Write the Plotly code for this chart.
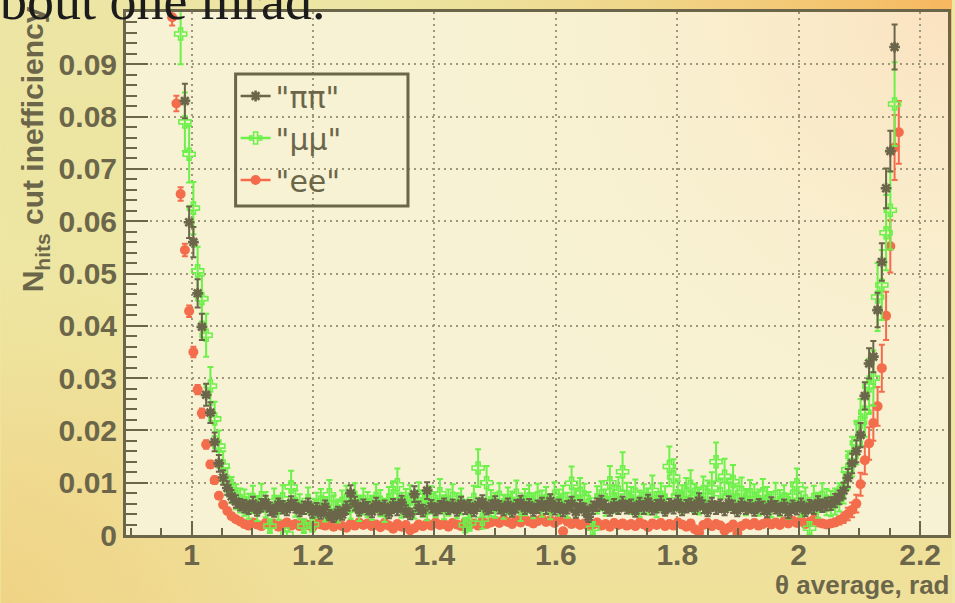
import base64
import plotly.graph_objects as go

# ---------------- data ----------------
X_FIRST = 0.968      # centre of the first bin, rad
BIN_WIDTH = 0.007    # bin width, rad

PIPI = [
    None, None, None, 0.0830, 0.0598, 0.0560, 0.0462, 0.0398, 0.0268, 0.0234,
    0.0178, 0.0137, 0.0110, 0.0090, 0.0074, 0.0064, 0.0058,
    0.0055, 0.0052, 0.0060, 0.0048, 0.0057, 0.0062, 0.0050, 0.0046, 0.0058, 0.0053,
    0.0049, 0.0061, 0.0055, 0.0047, 0.0052, 0.0058, 0.0044, 0.0050, 0.0041, 0.0054,
    0.0038, 0.0035, 0.0043, 0.0039, 0.0052, 0.0080, 0.0060, 0.0048, 0.0056, 0.0051,
    0.0045, 0.0059, 0.0050, 0.0054, 0.0042, 0.0057, 0.0049, 0.0062, 0.0046, 0.0040,
    0.0078, 0.0052, 0.0047, 0.0085, 0.0055, 0.0049, 0.0053, 0.0058, 0.0051, 0.0056,
    0.0048, 0.0060, 0.0052, 0.0055, 0.0047, 0.0058, 0.0063, 0.0050, 0.0054, 0.0061,
    0.0053, 0.0049, 0.0058, 0.0046, 0.0055, 0.0062, 0.0051, 0.0057, 0.0048, 0.0054,
    0.0059, 0.0052, 0.0065, 0.0050, 0.0056, 0.0047, 0.0053, 0.0060, 0.0044, 0.0055,
    0.0049, 0.0035, 0.0052, 0.0058, 0.0062, 0.0054, 0.0048, 0.0057, 0.0051, 0.0060,
    0.0053, 0.0056, 0.0046, 0.0059, 0.0052, 0.0064, 0.0050, 0.0055, 0.0061, 0.0048,
    0.0057, 0.0053, 0.0062, 0.0049, 0.0055, 0.0058, 0.0051, 0.0066, 0.0054, 0.0047,
    0.0059, 0.0052, 0.0056, 0.0049, 0.0061, 0.0054, 0.0047, 0.0058, 0.0051, 0.0055,
    0.0048, 0.0057, 0.0052, 0.0045, 0.0059, 0.0053, 0.0049, 0.0056, 0.0043, 0.0054,
    0.0050, 0.0058, 0.0047, 0.0055, 0.0052, 0.0061, 0.0056, 0.0059,
    0.0060, 0.0066, 0.0072, 0.0085, 0.0109, 0.0137, 0.0160, 0.0191, 0.0266, 0.0328,
    0.0341, 0.0430, 0.0522, 0.0663, 0.0734, 0.0933, None,
]
PIPI_ERR = [
    None, None, None, 0.0033, 0.0030, 0.0029, 0.0027, 0.0025, 0.0021, 0.0020,
    0.0018, 0.0016, 0.0014, 0.0013, 0.0012, 0.0012, 0.0011,
    0.0012, 0.0012, 0.0013, 0.0011, 0.0012, 0.0013, 0.0012, 0.0011, 0.0012, 0.0012,
    0.0011, 0.0013, 0.0012, 0.0011, 0.0012, 0.0012, 0.0011, 0.0011, 0.0010, 0.0012,
    0.0010, 0.0010, 0.0011, 0.0010, 0.0012, 0.0015, 0.0013, 0.0011, 0.0012, 0.0012,
    0.0011, 0.0012, 0.0011, 0.0012, 0.0010, 0.0012, 0.0011, 0.0013, 0.0011, 0.0010,
    0.0015, 0.0012, 0.0011, 0.0016, 0.0012, 0.0011, 0.0012, 0.0012, 0.0011, 0.0012,
    0.0011, 0.0013, 0.0012, 0.0012, 0.0011, 0.0012, 0.0013, 0.0011, 0.0012, 0.0013,
    0.0012, 0.0011, 0.0012, 0.0011, 0.0012, 0.0013, 0.0011, 0.0012, 0.0011, 0.0012,
    0.0012, 0.0012, 0.0013, 0.0011, 0.0012, 0.0011, 0.0012, 0.0013, 0.0011, 0.0012,
    0.0011, 0.0010, 0.0012, 0.0012, 0.0013, 0.0012, 0.0011, 0.0012, 0.0011, 0.0013,
    0.0012, 0.0012, 0.0011, 0.0012, 0.0012, 0.0013, 0.0011, 0.0012, 0.0013, 0.0011,
    0.0012, 0.0012, 0.0013, 0.0011, 0.0012, 0.0012, 0.0011, 0.0014, 0.0012, 0.0011,
    0.0012, 0.0012, 0.0012, 0.0011, 0.0013, 0.0012, 0.0011, 0.0012, 0.0011, 0.0012,
    0.0011, 0.0012, 0.0012, 0.0011, 0.0013, 0.0012, 0.0011, 0.0012, 0.0011, 0.0012,
    0.0011, 0.0012, 0.0011, 0.0012, 0.0012, 0.0013, 0.0012, 0.0012,
    0.0012, 0.0013, 0.0013, 0.0015, 0.0017, 0.0019, 0.0021, 0.0023, 0.0026, 0.0029,
    0.0030, 0.0033, 0.0036, 0.0038, 0.0039, 0.0043, None,
]

MUMU = [
    None, None, 0.0958, 0.0790, 0.0728, 0.0625, 0.0505, 0.0452, 0.0382, 0.0285,
    0.0222, 0.0170, 0.0132, 0.0102, 0.0086, 0.0073, 0.0066,
    0.0062, 0.0055, 0.0068, 0.0050, 0.0071, 0.0058, 0.0017, 0.0064, 0.0052, 0.0069,
    0.0002, 0.0092, 0.0060, 0.0054, 0.0017, 0.0066, 0.0020, 0.0057, 0.0063, 0.0049,
    0.0077, 0.0053, 0.0046, 0.0060, 0.0068, 0.0055, 0.0072, 0.0050, 0.0064, 0.0058,
    0.0052, 0.0070, 0.0061, 0.0047, 0.0066, 0.0075, 0.0096, 0.0057, 0.0063, 0.0069,
    0.0055, 0.0074, 0.0060, 0.0051, 0.0067, 0.0058, 0.0079, 0.0053, 0.0062, 0.0070,
    0.0056, 0.0064, 0.0019, 0.0023, 0.0068, 0.0128, 0.0030, 0.0100, 0.0061, 0.0057,
    0.0072, 0.0054, 0.0065, 0.0059, 0.0076, 0.0050, 0.0063, 0.0069, 0.0056, 0.0071,
    0.0060, 0.0066, 0.0053, 0.0074, 0.0062, 0.0068, 0.0057, 0.0099, 0.0064, 0.0080,
    0.0071, 0.0058, 0.0013, 0.0067, 0.0075, 0.0062, 0.0100, 0.0069, 0.0082, 0.0121,
    0.0073, 0.0066, 0.0078, 0.0060, 0.0070, 0.0064, 0.0085, 0.0058, 0.0072, 0.0067,
    0.0131, 0.0111, 0.0075, 0.0069, 0.0080, 0.0093, 0.0071, 0.0065, 0.0083, 0.0076,
    0.0090, 0.0140, 0.0079, 0.0112, 0.0074, 0.0102, 0.0068, 0.0081, 0.0063, 0.0077,
    0.0070, 0.0062, 0.0079, 0.0066, 0.0058, 0.0073, 0.0061, 0.0069, 0.0055, 0.0074,
    0.0096, 0.0059, 0.0065, 0.0013, 0.0068, 0.0057, 0.0072, 0.0063,
    0.0060, 0.0064, 0.0072, 0.0090, 0.0125, 0.0150, 0.0176, 0.0215, 0.0235, 0.0285,
    0.0300, 0.0455, 0.0478, 0.0578, 0.0621, 0.0824, None,
]
MUMU_ERR = [
    None, None, 0.0058, 0.0056, 0.0054, 0.0050, 0.0046, 0.0044, 0.0041, 0.0036,
    0.0033, 0.0030, 0.0028, 0.0026, 0.0025, 0.0024, 0.0023,
    0.0025, 0.0024, 0.0026, 0.0023, 0.0027, 0.0024, 0.0013, 0.0025, 0.0023, 0.0026,
    0.0005, 0.0031, 0.0025, 0.0024, 0.0013, 0.0025, 0.0014, 0.0024, 0.0025, 0.0023,
    0.0028, 0.0023, 0.0022, 0.0025, 0.0026, 0.0024, 0.0027, 0.0023, 0.0025, 0.0024,
    0.0023, 0.0027, 0.0025, 0.0022, 0.0026, 0.0028, 0.0031, 0.0024, 0.0025, 0.0026,
    0.0024, 0.0027, 0.0025, 0.0023, 0.0026, 0.0024, 0.0028, 0.0023, 0.0025, 0.0027,
    0.0024, 0.0025, 0.0014, 0.0015, 0.0026, 0.0036, 0.0018, 0.0032, 0.0025, 0.0024,
    0.0027, 0.0023, 0.0026, 0.0024, 0.0028, 0.0023, 0.0025, 0.0026, 0.0024, 0.0027,
    0.0025, 0.0026, 0.0023, 0.0027, 0.0025, 0.0026, 0.0024, 0.0032, 0.0025, 0.0029,
    0.0027, 0.0024, 0.0012, 0.0026, 0.0028, 0.0025, 0.0032, 0.0026, 0.0029, 0.0037,
    0.0027, 0.0026, 0.0028, 0.0025, 0.0027, 0.0025, 0.0029, 0.0024, 0.0027, 0.0026,
    0.0038, 0.0034, 0.0028, 0.0026, 0.0029, 0.0031, 0.0027, 0.0026, 0.0029, 0.0028,
    0.0030, 0.0037, 0.0028, 0.0034, 0.0027, 0.0032, 0.0026, 0.0029, 0.0025, 0.0028,
    0.0027, 0.0025, 0.0028, 0.0026, 0.0024, 0.0027, 0.0025, 0.0026, 0.0024, 0.0027,
    0.0031, 0.0024, 0.0026, 0.0012, 0.0026, 0.0024, 0.0027, 0.0025,
    0.0024, 0.0025, 0.0027, 0.0030, 0.0035, 0.0038, 0.0041, 0.0045, 0.0047, 0.0052,
    0.0053, 0.0065, 0.0067, 0.0072, 0.0075, 0.0080, None,
]

EE = [
    0.0990, 0.0825, 0.0652, 0.0545, 0.0428, 0.0350, 0.0278, 0.0233, 0.0173, 0.0135,
    0.0105, 0.0075, 0.0058, 0.0046, 0.0036, 0.0030, 0.0026,
    0.0021, 0.0018, 0.0024, 0.0020, 0.0017, 0.0023, 0.0019, 0.0022, 0.0016, 0.0020,
    0.0024, 0.0018, 0.0021, 0.0017, 0.0023, 0.0019, 0.0015, 0.0022, 0.0020, 0.0018,
    0.0023, 0.0016, 0.0020, 0.0017, 0.0014, 0.0021, 0.0018, 0.0024, 0.0019, 0.0022,
    0.0017, 0.0020, 0.0015, 0.0023, 0.0018, 0.0012, 0.0021, 0.0016, 0.0019, 0.0009,
    0.0013, 0.0020, 0.0017, 0.0022, 0.0018, 0.0024, 0.0019, 0.0021, 0.0016, 0.0023,
    0.0020, 0.0017, 0.0025, 0.0019, 0.0022, 0.0018, 0.0026, 0.0021, 0.0024, 0.0027,
    0.0023, 0.0029, 0.0025, 0.0021, 0.0028, 0.0024, 0.0030, 0.0026, 0.0022, 0.0027,
    0.0031, 0.0025, 0.0028, 0.0023, 0.0029, 0.0007, 0.0026, 0.0021, 0.0024, 0.0019,
    0.0022, 0.0017, 0.0020, 0.0024, 0.0018, 0.0021, 0.0016, 0.0023, 0.0019, 0.0022,
    0.0018, 0.0021, 0.0017, 0.0024, 0.0020, 0.0015, 0.0022, 0.0019, 0.0023, 0.0017,
    0.0021, 0.0018, 0.0024, 0.0020, 0.0016, 0.0022, 0.0011, 0.0005, 0.0019, 0.0023,
    0.0017, 0.0021, 0.0018, 0.0008, 0.0014, 0.0020, 0.0004, 0.0017, 0.0022, 0.0019,
    0.0023, 0.0018, 0.0021, 0.0025, 0.0020, 0.0024, 0.0019, 0.0026, 0.0022, 0.0027,
    0.0023, 0.0028, 0.0021, 0.0025, 0.0029, 0.0024, 0.0022, 0.0020,
    0.0022, 0.0024, 0.0028, 0.0033, 0.0040, 0.0048, 0.0060, 0.0097, 0.0143, 0.0175,
    0.0214, 0.0246, 0.0319, 0.0419, 0.0552, 0.0741, 0.0770,
]
EE_ERR = [
    0.0016, 0.0015, 0.0013, 0.0012, 0.0011, 0.0010, 0.0009, 0.0009, 0.0008, 0.0007,
    0.0007, 0.0006, 0.0006, 0.0005, 0.0005, 0.0005, 0.0005,
    0.0006, 0.0005, 0.0006, 0.0006, 0.0005, 0.0006, 0.0005, 0.0006, 0.0005, 0.0006,
    0.0006, 0.0005, 0.0006, 0.0005, 0.0006, 0.0005, 0.0005, 0.0006, 0.0006, 0.0005,
    0.0006, 0.0005, 0.0006, 0.0005, 0.0005, 0.0006, 0.0005, 0.0006, 0.0005, 0.0006,
    0.0005, 0.0006, 0.0005, 0.0006, 0.0005, 0.0004, 0.0006, 0.0005, 0.0005, 0.0004,
    0.0005, 0.0006, 0.0005, 0.0006, 0.0005, 0.0006, 0.0005, 0.0006, 0.0005, 0.0006,
    0.0006, 0.0005, 0.0006, 0.0005, 0.0006, 0.0005, 0.0007, 0.0006, 0.0006, 0.0007,
    0.0006, 0.0007, 0.0006, 0.0006, 0.0007, 0.0006, 0.0007, 0.0007, 0.0006, 0.0007,
    0.0007, 0.0006, 0.0007, 0.0006, 0.0007, 0.0004, 0.0007, 0.0006, 0.0006, 0.0005,
    0.0006, 0.0005, 0.0006, 0.0006, 0.0005, 0.0006, 0.0005, 0.0006, 0.0005, 0.0006,
    0.0005, 0.0006, 0.0005, 0.0006, 0.0006, 0.0005, 0.0006, 0.0005, 0.0006, 0.0005,
    0.0006, 0.0005, 0.0006, 0.0006, 0.0005, 0.0006, 0.0004, 0.0003, 0.0005, 0.0006,
    0.0005, 0.0006, 0.0005, 0.0004, 0.0005, 0.0006, 0.0003, 0.0005, 0.0006, 0.0005,
    0.0006, 0.0005, 0.0006, 0.0006, 0.0006, 0.0006, 0.0005, 0.0007, 0.0006, 0.0007,
    0.0006, 0.0007, 0.0006, 0.0006, 0.0007, 0.0006, 0.0006, 0.0006,
    0.0006, 0.0007, 0.0008, 0.0010, 0.0012, 0.0014, 0.0017, 0.0022, 0.0027, 0.0031,
    0.0034, 0.0037, 0.0045, 0.0046, 0.0050, 0.0062, 0.0060,
]

SERIES_NAMES = ['"ππ"', '"μμ"', '"ee"']
X_TICKS = [1.0, 1.2, 1.4, 1.6, 1.8, 2.0, 2.2]
X_TICK_TEXT = ["1", "1.2", "1.4", "1.6", "1.8", "2", "2.2"]
Y_TICKS = [0, 0.01, 0.02, 0.03, 0.04, 0.05, 0.06, 0.07, 0.08, 0.09, 0.1]
Y_TICK_TEXT = ["0", "0.01", "0.02", "0.03", "0.04", "0.05", "0.06", "0.07", "0.08", "0.09", "0.1"]

for arr in (PIPI_ERR, MUMU, MUMU_ERR, EE, EE_ERR):
    assert len(arr) == len(PIPI), len(arr)

X = [round(X_FIRST + BIN_WIDTH * i, 4) for i in range(len(PIPI))]

# ---------------- styling ----------------
OLIVE = "#6b664a"
C_PIPI = "#6b664a"
C_MUMU = "#6cf04a"
C_EE = "#f36d4c"
W, H = 955, 603
ML, MR, MT, MB = 126, 4, 12, 68
PW, PH = W - ML - MR, H - MT - MB


def px_x(p):
    return (p - ML) / PW


def px_y(p):
    return (H - MB - p) / PH


def svg_uri(svg):
    return "data:image/svg+xml;base64," + base64.b64encode(svg.encode("utf-8")).decode("ascii")


paper_svg = (
    "<svg xmlns='http://www.w3.org/2000/svg' width='955' height='603' viewBox='0 0 955 603' preserveAspectRatio='none'>"
    "<defs>"
    "<linearGradient id='a' x1='0' y1='0' x2='0' y2='1'>"
    "<stop offset='0' stop-color='#ece5a3'/><stop offset='0.6' stop-color='#eee6a2'/>"
    "<stop offset='1' stop-color='#efe09a'/></linearGradient>"
    "<radialGradient id='b' gradientUnits='userSpaceOnUse' cx='955' cy='0' r='600'>"
    "<stop offset='0' stop-color='#f6b75e' stop-opacity='1'/>"
    "<stop offset='0.45' stop-color='#f3c872' stop-opacity='0.65'/>"
    "<stop offset='1' stop-color='#f0d888' stop-opacity='0'/></radialGradient>"
    "<radialGradient id='c' gradientUnits='userSpaceOnUse' cx='0' cy='603' r='330'>"
    "<stop offset='0' stop-color='#f0d080' stop-opacity='0.8'/>"
    "<stop offset='1' stop-color='#f0d080' stop-opacity='0'/></radialGradient>"
    "</defs>"
    "<rect width='955' height='603' fill='url(#a)'/>"
    "<rect width='955' height='603' fill='url(#c)'/>"
    "<rect width='955' height='603' fill='url(#b)'/>"
    "</svg>"
)
plot_svg = (
    "<svg xmlns='http://www.w3.org/2000/svg' width='825' height='523' viewBox='0 0 825 523' preserveAspectRatio='none'>"
    "<defs>"
    "<radialGradient id='p' gradientUnits='userSpaceOnUse' cx='825' cy='0' r='520'>"
    "<stop offset='0' stop-color='#fbe2c0' stop-opacity='1'/>"
    "<stop offset='0.5' stop-color='#faecca' stop-opacity='0.6'/>"
    "<stop offset='1' stop-color='#f8f2d3' stop-opacity='0'/></radialGradient>"
    "</defs>"
    "<rect width='825' height='523' fill='#f7f2d3'/>"
    "<rect width='825' height='523' fill='url(#p)'/>"
    "</svg>"
)

fig = go.Figure()

MK_PIPI = dict(symbol="asterisk-open", size=9, color=C_PIPI, line=dict(color=C_PIPI, width=2.6))
MK_MUMU = dict(symbol="cross-open", size=10, color=C_MUMU, line=dict(color=C_MUMU, width=1.6))
MK_EE = dict(symbol="circle", size=10, color=C_EE)

series = [
    (EE, EE_ERR, SERIES_NAMES[2], C_EE, MK_EE),
    (MUMU, MUMU_ERR, SERIES_NAMES[1], C_MUMU, MK_MUMU),
    (PIPI, PIPI_ERR, SERIES_NAMES[0], C_PIPI, MK_PIPI),
]
for vals, errs, name, col, mk in series:
    fig.add_trace(go.Scatter(
        x=X, y=vals, mode="markers", name=name, showlegend=False,
        marker=mk,
        error_y=dict(type="data", array=errs, visible=True, color=col, thickness=2, width=3),
    ))

legend_styles = {
    SERIES_NAMES[0]: (C_PIPI, MK_PIPI),
    SERIES_NAMES[1]: (C_MUMU, MK_MUMU),
    SERIES_NAMES[2]: (C_EE, MK_EE),
}
for name in SERIES_NAMES:
    col, mk = legend_styles[name]
    fig.add_trace(go.Scatter(
        x=[None], y=[None], mode="lines+markers", name=name,
        line=dict(color=col, width=2.5), marker=mk,
    ))

tick_font = dict(family="Liberation Sans", size=30, color=OLIVE, weight="bold")

fig.update_layout(
    width=W, height=H, autosize=False,
    margin=dict(l=ML, r=MR, t=MT, b=MB, pad=0),
    paper_bgcolor="#eee6a2",
    plot_bgcolor="rgba(0,0,0,0)",
    showlegend=True,
    legend=dict(
        x=px_x(236), y=px_y(70), xanchor="left", yanchor="top",
        bgcolor="rgba(0,0,0,0)", borderwidth=0,
        font=dict(family="DejaVu Sans", size=30, color=OLIVE),
        traceorder="normal", itemwidth=30,
    ),
    shapes=[
        dict(type="rect", xref="paper", yref="paper",
             x0=px_x(236), x1=px_x(409), y0=px_y(206), y1=px_y(74),
             line=dict(color=OLIVE, width=3), fillcolor="rgba(0,0,0,0)", layer="above"),
    ],
    images=[
        dict(source=svg_uri(paper_svg), xref="paper", yref="paper",
             x=-ML / PW, y=1 + MT / PH, sizex=W / PW, sizey=H / PH,
             xanchor="left", yanchor="top", sizing="stretch", layer="below"),
        dict(source=svg_uri(plot_svg), xref="paper", yref="paper",
             x=0, y=1, sizex=1, sizey=1,
             xanchor="left", yanchor="top", sizing="stretch", layer="below"),
    ],
    xaxis=dict(
        range=[0.892, 2.246], tickmode="array", tickvals=X_TICKS, ticktext=X_TICK_TEXT,
        ticks="inside", ticklen=14, tickwidth=2, tickcolor=OLIVE,
        showline=True, linewidth=3, linecolor=OLIVE, mirror=True,
        showgrid=True, gridcolor="#9d977c", gridwidth=2, griddash="2px,4px",
        zeroline=False, tickfont=tick_font, ticklabelstandoff=-9,
        minor=dict(tick0=0, dtick=0.05, ticks="inside", ticklen=7, tickwidth=2,
                   tickcolor=OLIVE, showgrid=False),
    ),
    yaxis=dict(
        range=[0, 0.1], tickmode="array", tickvals=Y_TICKS, ticktext=Y_TICK_TEXT,
        ticks="inside", ticklen=22, tickwidth=2, tickcolor=OLIVE,
        showline=True, linewidth=3, linecolor=OLIVE, mirror=True,
        showgrid=True, gridcolor="#9d977c", gridwidth=2, griddash="2px,4px",
        zeroline=False, tickfont=tick_font, ticklabelstandoff=0,
        minor=dict(tick0=0, dtick=0.002, ticks="inside", ticklen=11, tickwidth=2,
                   tickcolor=OLIVE, showgrid=False),
    ),
    annotations=[
        dict(text="θ average, rad", xref="paper", yref="paper",
             x=1.004, y=px_y(585), xanchor="right", yanchor="middle",
             showarrow=False,
             font=dict(family="Liberation Sans", size=26, color=OLIVE, weight="bold")),
        dict(text="N<sub>hits</sub> cut inefficiency", xref="paper", yref="paper",
             x=px_x(35), y=px_y(4), xanchor="center", yanchor="top",
             textangle=-90, showarrow=False,
             font=dict(family="Liberation Sans", size=30, color=OLIVE, weight="bold")),
        dict(text="about one mrad.", xref="paper", yref="paper",
             x=px_x(328), y=px_y(33), xanchor="right", yanchor="bottom",
             showarrow=False,
             font=dict(family="Liberation Serif", size=54, color="#1c1c1c")),
    ],
)

fig.write_html("out.html")
